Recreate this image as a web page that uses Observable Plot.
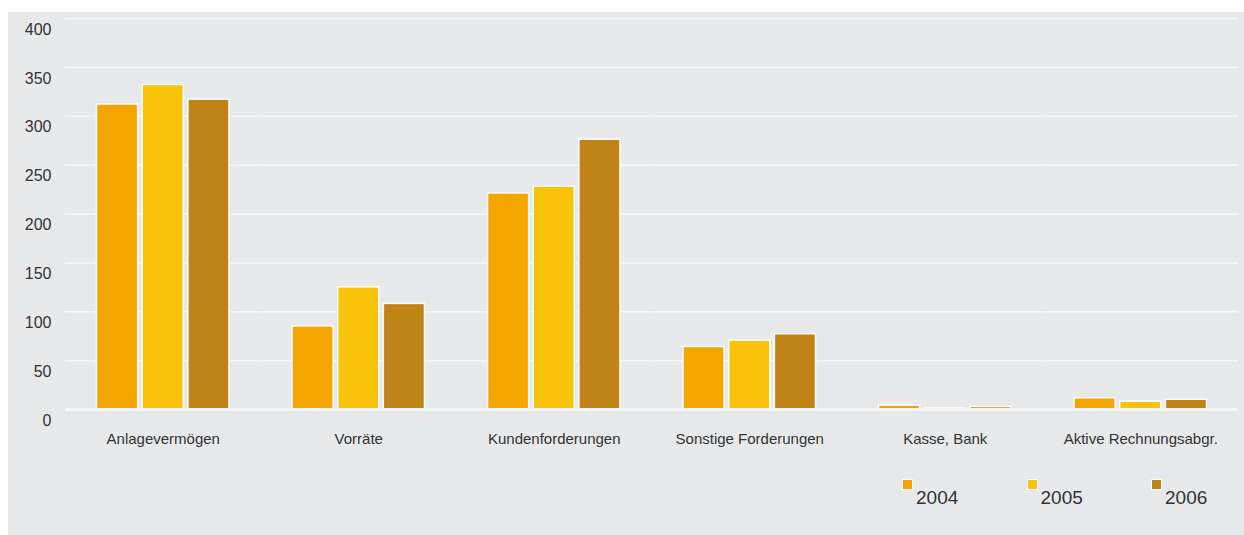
<!DOCTYPE html>
<html><head><meta charset="utf-8">
<script src="https://cdn.jsdelivr.net/npm/d3@7"></script>
<script src="https://cdn.jsdelivr.net/npm/@observablehq/plot@0.6"></script>
<style>
html,body{margin:0;padding:0;background:#fff;}
#panel{position:absolute;left:8px;top:12px;width:1236px;height:523px;background:#e8e9eb;font-family:"Liberation Sans",Arial,sans-serif;}
#chart svg{display:block}
.lg-sw{position:absolute;width:11px;height:11px;box-sizing:border-box;border:1px solid #fff;}
.lg-tx{position:absolute;font-size:19px;line-height:19px;color:#333;}
</style></head><body>
<div id="panel"><div id="chart"></div><div id="legend"></div></div>
<script>
const categories = ["Anlagevermögen","Vorräte","Kundenforderungen","Sonstige Forderungen","Kasse, Bank","Aktive Rechnungsabgr."];
const years = ["2004","2005","2006"];
const v2004 = [312, 85, 221, 64, 4, 11.5];
const v2005 = [332, 125, 228, 70.5, 1, 8];
const v2006 = [317, 108, 276, 77, 2.5, 10];
const colors = ["#f4a500","#fac30b","#c08317"];
const yTicks = [0,50,100,150,200,250,300,350,400];
const gridTicks = [50,100,150,200,250,300,350,400];

const series = [v2004, v2005, v2006];
const data = categories.flatMap((c,i) => years.map((y,j) => ({category:c, year:y, value:series[j][i]})));

const chart = Plot.plot({
  width:1236, height:445,
  marginLeft:57, marginRight:6, marginTop:6, marginBottom:48,
  style:{background:"transparent", fontFamily:'"Liberation Sans",Arial,sans-serif', color:"#333"},
  fx:{domain:categories, padding:0, label:null, round:false},
  x:{domain:years, paddingInner:0.1, paddingOuter:0.69, axis:null, round:false},
  y:{domain:[0,400], label:null},
  color:{domain:years, range:colors},
  marks:[
    Plot.ruleY(gridTicks, {stroke:"#f7f7f8", strokeWidth:1.5}),
    Plot.barY(data, {fx:"category", x:"year", y:"value", fill:"year", stroke:"#fff", strokeWidth:1.5}),
    Plot.ruleY([0], {stroke:"#f7f7f8", strokeWidth:3}),
    Plot.axisY(yTicks, {tickSize:0, tickPadding:14, fontSize:16, dy:11, label:null}),
    Plot.axisFx({anchor:"bottom", tickSize:0, tickPadding:24, fontSize:15, label:null})
  ]
});
document.getElementById("chart").append(chart);

const legend = document.getElementById("legend");
years.forEach((y,i) => {
  const x0 = 894 + i*124.5;
  const sw = document.createElement("div");
  sw.className = "lg-sw";
  sw.style.left = x0 + "px"; sw.style.top = "467px"; sw.style.background = colors[i];
  const tx = document.createElement("div");
  tx.className = "lg-tx";
  tx.style.left = (x0 + 14) + "px"; tx.style.top = "476px";
  tx.textContent = y;
  legend.append(sw, tx);
});
</script></body></html>
